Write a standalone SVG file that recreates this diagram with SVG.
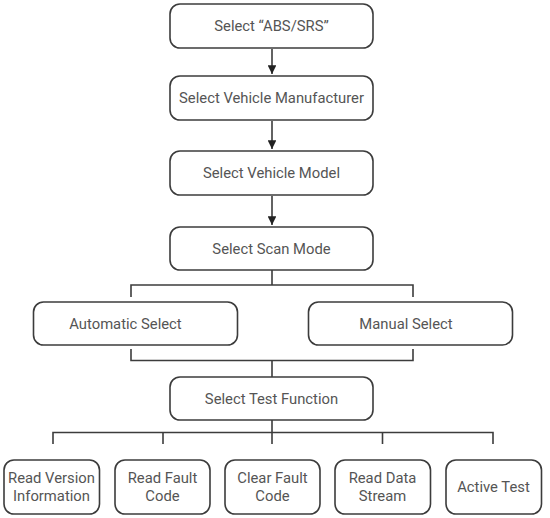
<svg xmlns="http://www.w3.org/2000/svg" width="550" height="518" viewBox="0 0 550 518">
<style>
.box{fill:#fff;stroke:#3c3c3c;stroke-width:1.6}
.t{font-family:Roboto,"Liberation Sans",sans-serif;font-size:14.8px;fill:#555;text-anchor:middle}
.c{fill:none;stroke:#3c3c3c;stroke-width:1.6}
</style>
<defs>
<marker id="ah" viewBox="0 0 10 10" refX="10" refY="5" markerWidth="5.5" markerHeight="5.5" orient="auto" markerUnits="strokeWidth">
<path d="M0,0L10,5L0,10z" fill="#222"/>
</marker>
</defs>
<rect width="550" height="518" fill="#fff"/>
<g id="connectors">
<line class="c" x1="272" y1="49" x2="272" y2="74" marker-end="url(#ah)"/>
<line class="c" x1="272" y1="121" x2="272" y2="149" marker-end="url(#ah)"/>
<line class="c" x1="272" y1="196" x2="272" y2="225" marker-end="url(#ah)"/>
<polyline class="c" points="272,270 272,285"/>
<polyline class="c" points="131,297 131,285 413,285 413,297"/>
<polyline class="c" points="131,349 131,360.5 413,360.5 413,349"/>
<polyline class="c" points="272,360.5 272,377"/>
<polyline class="c" points="272,420 272,432.5"/>
<polyline class="c" points="53,444 53,432.5 493,432.5 493,444"/>
<line class="c" x1="163" y1="432.5" x2="163" y2="444"/>
<line class="c" x1="272" y1="432.5" x2="272" y2="444"/>
<line class="c" x1="382.5" y1="432.5" x2="382.5" y2="444"/>
</g>
<g id="n1"><rect class="box" x="170" y="4" width="203" height="44" rx="10"/><text class="t" x="271.5" y="31">Select “ABS/SRS”</text></g>
<g id="n2"><rect class="box" x="170" y="76" width="203" height="44" rx="10"/><text class="t" x="271.5" y="103">Select Vehicle Manufacturer</text></g>
<g id="n3"><rect class="box" x="170" y="151" width="203" height="44" rx="10"/><text class="t" x="271.5" y="178">Select Vehicle Model</text></g>
<g id="n4"><rect class="box" x="170" y="227" width="203" height="43" rx="10"/><text class="t" x="271.5" y="253.5">Select Scan Mode</text></g>
<g id="n5"><rect class="box" x="33.5" y="302" width="204" height="43" rx="10"/><text class="t" x="125.5" y="328.5">Automatic Select</text></g>
<g id="n6"><rect class="box" x="308.5" y="302" width="204" height="43" rx="10"/><text class="t" x="406" y="328.5">Manual Select</text></g>
<g id="n7"><rect class="box" x="170" y="377" width="203" height="43" rx="10"/><text class="t" x="271.5" y="403.5">Select Test Function</text></g>
<g id="n8"><rect class="box" x="4" y="460" width="95.5" height="54" rx="10"/><text class="t" x="51.5" y="483">Read Version</text><text class="t" x="51.5" y="501">Information</text></g>
<g id="n9"><rect class="box" x="115" y="460" width="95" height="54" rx="10"/><text class="t" x="162.5" y="483">Read Fault</text><text class="t" x="162.5" y="501">Code</text></g>
<g id="n10"><rect class="box" x="225" y="460" width="95" height="54" rx="10"/><text class="t" x="272.5" y="483">Clear Fault</text><text class="t" x="272.5" y="501">Code</text></g>
<g id="n11"><rect class="box" x="335" y="460" width="95.5" height="54" rx="10"/><text class="t" x="382.5" y="483">Read Data</text><text class="t" x="382.5" y="501">Stream</text></g>
<g id="n12"><rect class="box" x="446" y="460" width="95.5" height="54" rx="10"/><text class="t" x="493.5" y="492">Active Test</text></g>
</svg>
